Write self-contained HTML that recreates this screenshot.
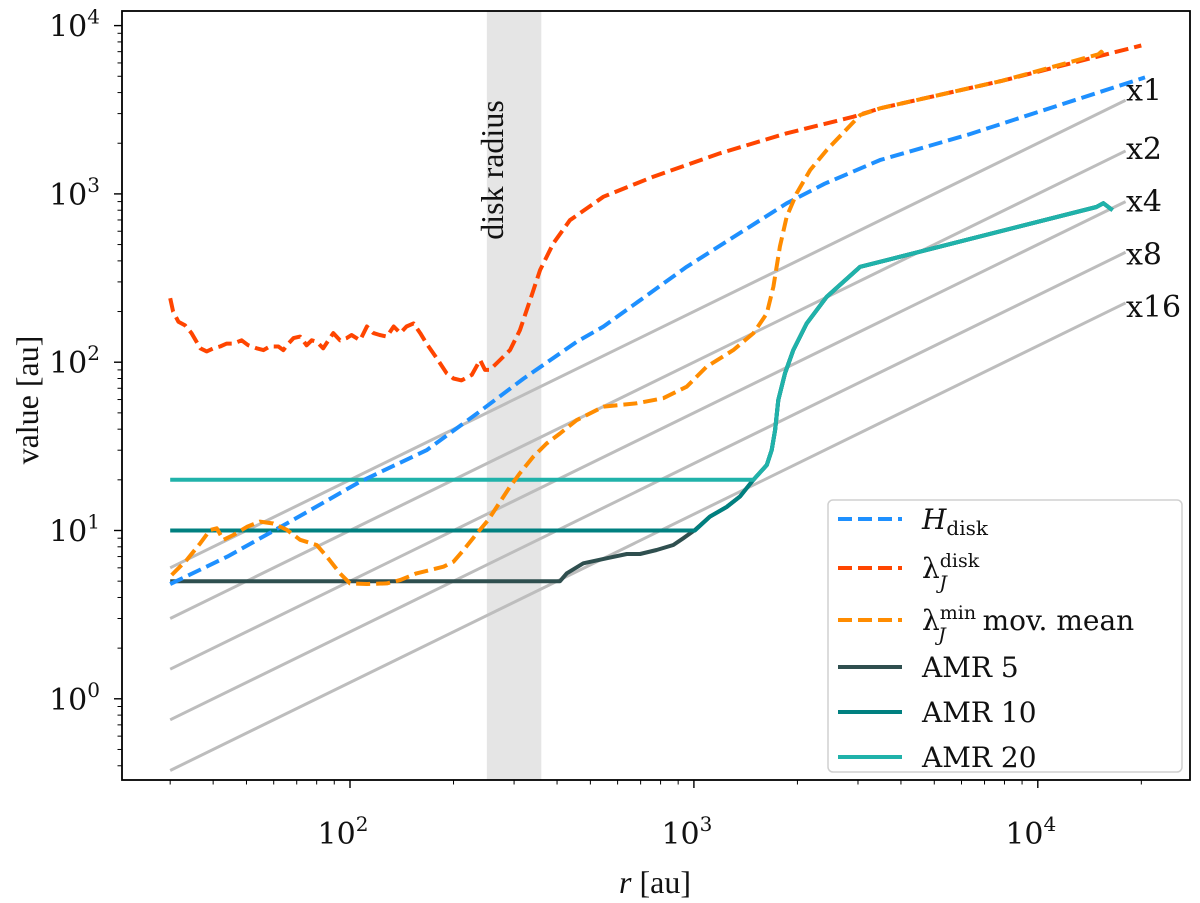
<!DOCTYPE html>
<html><head><meta charset="utf-8"><style>
html,body{margin:0;padding:0;background:#fff;}
svg{display:block;}
.tk{font-family:"DejaVu Serif","Liberation Serif",serif;font-size:30px;fill:#111;}
.sup{font-size:20px;}
.lab{font-family:"Liberation Serif","DejaVu Serif",serif;font-size:32px;fill:#111;}
.lg{font-family:"DejaVu Serif","Liberation Serif",serif;font-size:28px;fill:#111;}
</style></head><body>
<svg id="chart" width="1200" height="903" viewBox="0 0 1200 903" xmlns="http://www.w3.org/2000/svg">
<g id="bg"></g><g id="grid"></g><g id="series"></g><g id="axes"></g><g id="legend"></g>
</svg>
<script>
const hR=[30,44,68,107,167,234,320,456,546,953,1862,2400,3475,6280,20500];
const hV=[4.8,7.0,11.5,19.5,30,49.6,80,132,163,369,879,1150,1589,2250,4920];
const jR=[30,30.6,31.7,33.1,34.6,36.7,38.3,40.1,41.9,43.8,45.8,48.4,50.6,53.5,56,58.5,61.9,64,66.2,68.5,71.6,74.8,77.4,80.1,83.6,87.4,89.4,93.5,97.8,101,107,112,117,122,128,134,140,146,153,160,167,179,191,200,211,226,239,247,255,273,292,312,334,357,390,436,546,762,1191,1862,2911,3490,7870,20000];
const jV=[240,200,174,166,149,121,116,121,124,129,129,135,126,121,118,124,124,118,129,139,142,126,135,132,121,139,149,135,139,145,135,163,149,145,142,163,149,163,170,149,129,105,86,80,78,84,103,90,90,103,118,155,234,353,508,698,962,1265,1742,2291,2877,3228,4700,7620];
const oR=[30.3,33.5,36.7,39.2,41,42.8,45.8,50.1,54.7,59.8,65.5,71.6,80,85.6,93.5,100,112,128,140,156,187,200,214,234,252,267,292,312,341,373,408,456,546,682,815,953,1089,1302,1490,1629,1703,1778,1862,1990,2178,2434,3045,3490,7870,15000,15300,15600];
const oV=[5.44,6.68,8.4,10.07,10.3,8.79,9.4,10.5,11.3,11,10.1,8.8,8.2,7,5.56,4.85,4.81,4.85,5.08,5.56,6.09,6.53,7.66,9.62,11.5,13.8,18.2,21.9,27.4,32.9,37.7,45.2,54.5,57,61.1,71.5,94,118,149,195,281,486,732,1009,1387,1823,2944,3228,4700,6750,7000,6650];
const aR=[30,408,427,477,557,638,697,779,871,931,1007,1113,1245,1361,1489,1629,1684,1722,1760,1840,1945,2128,2434,3044,14800,15500,16500];
const aV=[5,5.03,5.57,6.38,6.84,7.25,7.25,7.66,8.2,8.99,10.07,12.1,13.8,15.9,20,24.5,30.1,39.5,59.6,85.9,118,170,245,369,836,880,800];
const amrLevels=[5,10,20];
const amrNames=["AMR 5","AMR 10","AMR 20"];
const amrColors=["#2f4f4f","#008080","#20b2aa"];
const refFactors=[1,2,4,8,16];
const refLabels=["x1","x2","x4","x8","x16"];
const refCoef=0.2, refStart=30, refEnd=18000;
const disk=[250,360];
const xTicks=[100,1000,10000], xTickExp=["2","3","4"];
const yTicks=[1,10,100,1000,10000], yTickExp=["0","1","2","3","4"];

const L=122,R=1190,T=11,B=780;
const X=r=>350+(Math.log10(r)-2)*343.9;
const Y=v=>530.5-(Math.log10(v)-1)*168.3;
const NS="http://www.w3.org/2000/svg";
function mk(tag,attrs,parent){const e=document.createElementNS(NS,tag);for(const k in attrs)e.setAttribute(k,attrs[k]);document.getElementById(parent).appendChild(e);return e;}
function pathD(rs,vs){return rs.map((r,i)=>(i?"L":"M")+X(r).toFixed(1)+","+Y(vs[i]).toFixed(1)).join("");}

let band=mk("rect",{x:X(disk[0]),y:T,width:X(disk[1])-X(disk[0]),height:B-T,fill:"#e5e5e5"},"bg");


let dt=mk("text",{x:0,y:0,class:"lab",transform:"translate("+((X(disk[0])+X(disk[1]))/2-11)+",170) rotate(-90)","text-anchor":"middle"},"bg");
dt.textContent="disk radius";



refFactors.forEach((f,i)=>{
  const l=mk("line",{x1:X(refStart),y1:Y(refStart*refCoef/f),x2:X(refEnd),y2:Y(refEnd*refCoef/f),stroke:"#bdbdbd","stroke-width":3},"grid");
  
  
  const t=mk("text",{x:1126,y:Y(refEnd*refCoef/f)+[0,8,10,12,14][i],class:"tk"},"grid");
  t.textContent=refLabels[i];
  
  
});

amrLevels.forEach((lev,i)=>{
  const rs=[30],vs=[lev];
  aR.forEach((r,j)=>{if(aV[j]>=lev&&r>30){if(rs.length===1){rs.push(r);vs.push(lev);} else {rs.push(r);vs.push(aV[j]);}}});
  const p=mk("path",{d:pathD(rs,vs),fill:"none",stroke:amrColors[i],"stroke-width":4,"stroke-linejoin":"round"},"series");
  
  
});
const dashed=[[hR,hV,"#1e90ff","h-disk-line"],[jR,jV,"#ff4500","lambda-j-disk-line"],[oR,oV,"#ff8c00","lambda-j-min-line"]];
dashed.forEach(s=>{
  const p=mk("path",{d:pathD(s[0],s[1]),fill:"none",stroke:s[2],"stroke-width":4,"stroke-dasharray":"14 6","stroke-linejoin":"round"},"series");
  
  
});

const fr=mk("rect",{x:L,y:T,width:R-L,height:B-T,fill:"none",stroke:"#000","stroke-width":1.8},"axes");


for(let e=1;e<=4;e++)for(let m=1;m<10;m++){const v=m*Math.pow(10,e);const x=X(v);if(x<L||x>R)continue;
  const t=mk("line",{x1:x,y1:B,x2:x,y2:B+(m===1?8:4.5),stroke:"#000","stroke-width":m===1?1.4:1},"axes");
  
  }
xTicks.forEach((v,i)=>{const t=mk("text",{x:X(v)-7,y:844,class:"tk","text-anchor":"middle"},"axes");
  t.innerHTML='10<tspan class="sup" dy="-13">'+xTickExp[i]+'</tspan>';
  
  });
for(let e=-1;e<=4;e++)for(let m=1;m<10;m++){const v=m*Math.pow(10,e);const y=Y(v);if(y<T||y>B)continue;
  const t=mk("line",{x1:L,y1:y,x2:L-(m===1?8:4.5),y2:y,stroke:"#000","stroke-width":m===1?1.4:1},"axes");
  
  }
yTicks.forEach((v,i)=>{const t=mk("text",{x:100,y:Y(v)+11,class:"tk","text-anchor":"end"},"axes");
  t.innerHTML='10<tspan class="sup" dy="-13">'+yTickExp[i]+'</tspan>';
  
  });
let xl=mk("text",{x:655,y:893,class:"lab","text-anchor":"middle"},"axes");
xl.innerHTML='<tspan font-style="italic">r</tspan> [au]';


let yl=mk("text",{x:0,y:0,class:"lab","text-anchor":"middle",transform:"translate(38,400) rotate(-90)"},"axes");
yl.textContent="value [au]";



let lb=mk("rect",{x:828,y:500,width:354,height:272,rx:5,fill:"#fff","fill-opacity":0.85,stroke:"#d0d0d0","stroke-width":1.5},"legend");


const legItems=[["#1e90ff",true,'<tspan font-style="italic">H</tspan><tspan font-size="20" dy="6">disk</tspan>',"legend-h-disk"],
["#ff4500",true,'λ<tspan font-size="19" dy="-11">disk</tspan><tspan font-size="19" font-style="italic" dx="-40" dy="22">J</tspan>',"legend-lambda-j-disk"],
["#ff8c00",true,'λ<tspan font-size="19" dy="-11">min</tspan><tspan font-size="19" font-style="italic" dx="-38" dy="22">J</tspan><tspan dx="28" dy="-11"> mov. mean</tspan>',"legend-lambda-j-min"],
[amrColors[0],false,amrNames[0],"legend-amr-5"],[amrColors[1],false,amrNames[1],"legend-amr-10"],[amrColors[2],false,amrNames[2],"legend-amr-20"]];
const legY=[525,574,626,673,718,763];
legItems.forEach((it,i)=>{
  const l=mk("line",{x1:838,y1:legY[i]-6,x2:902,y2:legY[i]-6,stroke:it[0],"stroke-width":4},"legend");
  if(it[1])l.setAttribute("stroke-dasharray","14 6");
  
  
  const t=mk("text",{x:922,y:legY[i]+4,class:"lg"},"legend");
  t.innerHTML=it[2];
  
  
});
</script>
</body></html>
